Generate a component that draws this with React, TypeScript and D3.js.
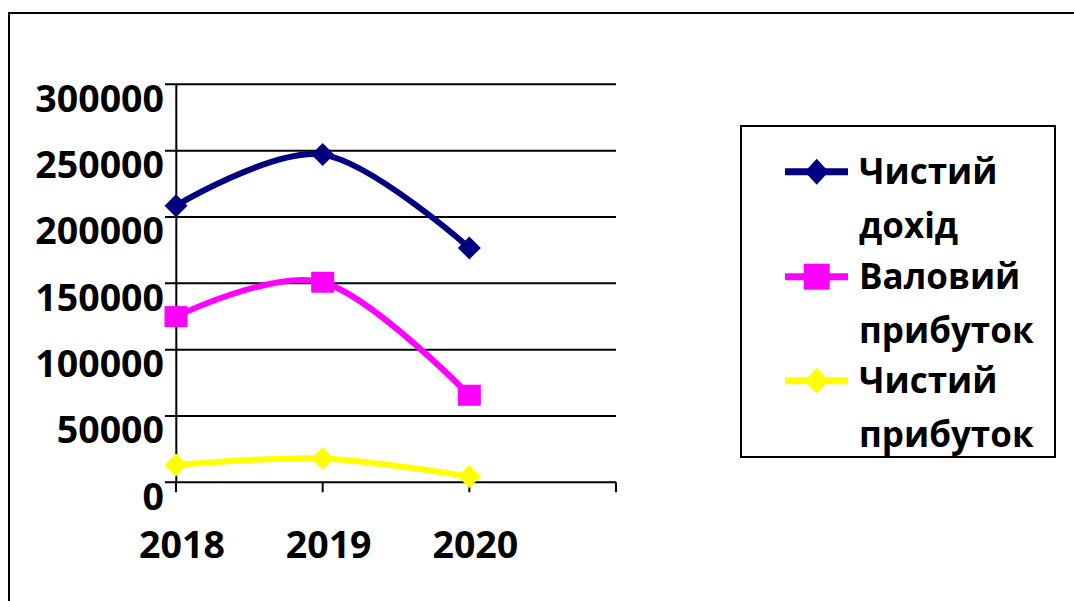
import React from "react";
import * as d3 from "d3";

const categories = ["2018", "2019", "2020", ""];
const yTicks = [0, 50000, 100000, 150000, 200000, 250000, 300000];
const netIncome = [208500, 247000, 176700];
const grossProfit = [124900, 150800, 65600];
const netProfit = [13000, 18000, 4300];
const seriesNames = [["Чистий", "дохід"], ["Валовий", "прибуток"], ["Чистий", "прибуток"]];
const seriesColors = ["#000080", "#FF00FF", "#FFFF00"];
const seriesMarkers = ["diamond", "square", "diamond"];
const seriesValues = [netIncome, grossProfit, netProfit];

const W = 1074;
const H = 601;
const FONT = "'Open Sans', sans-serif";

function Marker({ type, x, y, color, big }: { type: string; x: number; y: number; color: string; big?: boolean }) {
  if (type === "diamond") {
    const hw = big ? 12 : 11.5;
    const hh = big ? 13 : 11.5;
    return <path d={`M${x},${y - hh}L${x + hw},${y}L${x},${y + hh}L${x - hw},${y}Z`} fill={color} />;
  }
  const w = big ? 26 : 23;
  const h = big ? 26 : 21;
  return <rect x={x - w / 2} y={y - h / 2} width={w} height={h} fill={color} />;
}

export default function App() {
  const x = d3.scalePoint<string>().domain(categories).range([176, 616]).padding(0);
  const y = d3.scaleLinear().domain([0, 300000]).range([482.3, 84.3]);
  const line = d3
    .line<number>()
    .x((_, i) => x(categories[i]) as number)
    .y((d) => y(d))
    .curve(d3.curveCardinal.tension(0));

  const legendRows = [171.7, 276.7, 380.7];

  return (
    <svg width={W} height={H} style={{ position: "absolute", left: 0, top: 0, background: "#fff" }} fontFamily={FONT}>
      <rect x={0} y={0} width={W} height={H} fill="#fff" />
      {/* outer chart border (only top and left visible) */}
      <rect x={9} y={13} width={1200} height={800} fill="none" stroke="#000" strokeWidth={2} />

      {/* gridlines + y ticks */}
      {yTicks.map((t) => (
        <line key={"g" + t} x1={165} x2={616} y1={y(t)} y2={y(t)} stroke="#000" strokeWidth={2} />
      ))}
      {/* y axis */}
      <line x1={176.3} x2={176.3} y1={y(300000)} y2={y(0)} stroke="#000" strokeWidth={2} />
      {/* x ticks */}
      {categories.map((c, i) => (
        <line key={"xt" + i} x1={x(c)} x2={x(c)} y1={y(0)} y2={y(0) + 10} stroke="#000" strokeWidth={2} />
      ))}
      {/* y labels */}
      {yTicks.map((t) => (
        <text key={"yl" + t} x={164} y={y(t) + 27.5} textAnchor="end" fontSize={37.5} fontWeight={700} fill="#000">
          {t}
        </text>
      ))}
      {/* x labels */}
      {categories.map((c, i) =>
        c ? (
          <text key={"xl" + i} x={(x(c) as number) + 6} y={558} textAnchor="middle" fontSize={37.5} fontWeight={700} fill="#000">
            {c}
          </text>
        ) : null
      )}

      {/* series */}
      {seriesValues.map((vals, si) => (
        <g key={"s" + si}>
          <path d={line(vals) as string} fill="none" stroke={seriesColors[si]} strokeWidth={6} />
          {vals.map((v, i) => (
            <Marker key={i} type={seriesMarkers[si]} x={x(categories[i]) as number} y={y(v)} color={seriesColors[si]} />
          ))}
        </g>
      ))}

      {/* legend */}
      <rect x={741} y={126} width={314} height={331} fill="#fff" stroke="#000" strokeWidth={2} />
      {seriesNames.map((names, si) => {
        const ly = legendRows[si];
        return (
          <g key={"lg" + si}>
            <line x1={785} x2={848} y1={ly} y2={ly} stroke={seriesColors[si]} strokeWidth={7} />
            <Marker type={seriesMarkers[si]} x={816.7} y={ly} color={seriesColors[si]} big />
            <text x={859} y={ly + 12} fontSize={35} fontWeight={700} fill="#000">
              {names[0]}
            </text>
            <text x={859} y={ly + 66} fontSize={35} fontWeight={700} fill="#000">
              {names[1]}
            </text>
          </g>
        );
      })}
    </svg>
  );
}
